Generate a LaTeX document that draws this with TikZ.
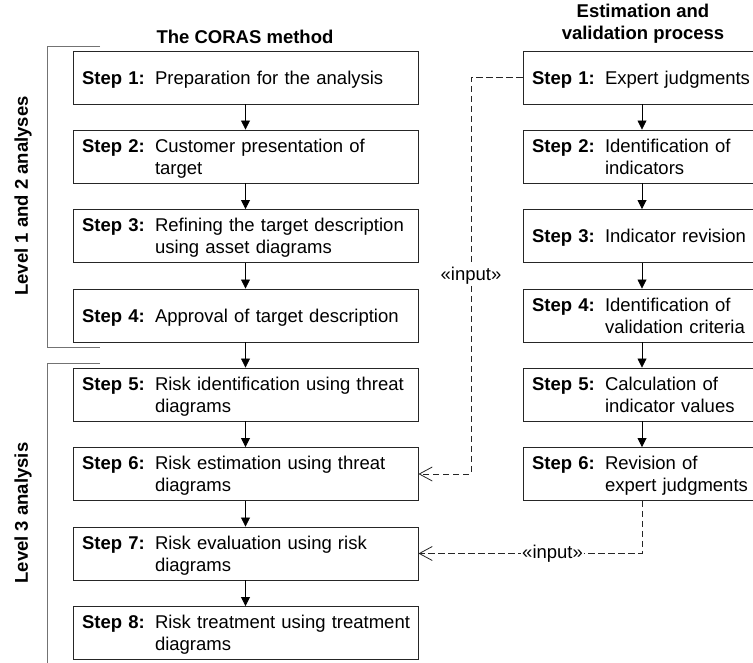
\documentclass[tikz,border=0pt]{standalone}
\usepackage{fontspec}
\setmainfont{Liberation Sans}
\usepackage{tikz}
\usetikzlibrary{arrows.meta}

\newcommand{\stepno}[2]{\raisebox{-2.5pt}[\height][\depth]{\begin{tabular}{@{}p{73pt}@{}l@{}}\textbf{Step #1:} & #2\end{tabular}}}
\newcommand{\bodyfont}{\fontsize{18.5}{21.7}\selectfont}

\begin{document}
\begin{tikzpicture}[x=1pt,y=-1pt,
  every node/.style={font=\bodyfont},
  stepbox/.style={draw=black!85,line width=0.9pt,minimum height=53pt,text width=327pt,
    inner xsep=9pt,inner ysep=2pt,align=left},
  valbox/.style={stepbox,text width=220pt},
  flow/.style={draw=black,line width=0.8pt,-{Triangle[length=9pt,width=9pt]}},
  dep/.style={draw=black!85,line width=0.8pt,dash pattern=on 6.5pt off 3.5pt,
    -{Straight Barb[length=13pt,width=14pt]}},
  bracket/.style={draw=black!55,line width=0.9pt},
  heading/.style={font=\bodyfont\bfseries,align=center}]
\useasboundingbox (0,0) rectangle (753,663);

% headings
\node[heading] (hcoras) at (245,37) {The CORAS method};
\node[heading] (hval) at (643,24) {Estimation and\\validation process};

% the CORAS method
\node[stepbox] (l1) at (245.5,77.5) {\stepno{1}{Preparation for the analysis}};
\node[stepbox] (l2) at (245.5,156.5) {\stepno{2}{Customer presentation of\\ & target}};
\node[stepbox] (l3) at (245.5,236) {\stepno{3}{Refining the target description\\ & using asset diagrams}};
\node[stepbox] (l4) at (245.5,315.5) {\stepno{4}{Approval of target description}};
\node[stepbox] (l5) at (245.5,394.5) {\stepno{5}{Risk identification using threat\\ & diagrams}};
\node[stepbox] (l6) at (245.5,474) {\stepno{6}{Risk estimation using threat\\ & diagrams}};
\node[stepbox] (l7) at (245.5,553.5) {\stepno{7}{Risk evaluation using risk\\ & diagrams}};
\node[stepbox] (l8) at (245.5,633) {\stepno{8}{Risk treatment using treatment\\ & diagrams}};

% estimation and validation
\node[valbox] (r1) at (642,77.5) {\stepno{1}{Expert judgments}};
\node[valbox] (r2) at (642,156.5) {\stepno{2}{Identification of\\ & indicators}};
\node[valbox] (r3) at (642,236) {\stepno{3}{Indicator revision}};
\node[valbox] (r4) at (642,315.5) {\stepno{4}{Identification of\\ & validation criteria}};
\node[valbox] (r5) at (642,394.5) {\stepno{5}{Calculation of\\ & indicator values}};
\node[valbox] (r6) at (642,474) {\stepno{6}{Revision of\\ & expert judgments}};

\foreach \a/\b in {l1/l2,l2/l3,l3/l4,l4/l5,l5/l6,l6/l7,l7/l8,r1/r2,r2/r3,r3/r4,r4/r5,r5/r6}
  \draw[flow] (\a) -- (\b);

% input dependencies
\coordinate (k1) at (471,77.5);
\coordinate (k2) at (642,553.5);
\draw[dep] (r1.west) -- (k1) -- node[fill=white,inner sep=1pt] (in1) {«input»} (k1 |- l6.east) -- (l6.east);
\draw[dep] (r6.south) -- (k2) -- node[fill=white,inner sep=1pt,pos=0.4] (in2) {«input»} (l7.east);

% levels
\draw[bracket] (100,46) -- (47,46) -- (47,347) -- (100,347);
\draw[bracket] (100,363) -- (47,363) -- (47,663);
\node[heading,rotate=90] (lev12) at (23,196) {Level 1 and 2 analyses};
\node[heading,rotate=90] (lev3) at (23,513) {Level 3 analysis};
\end{tikzpicture}
\end{document}
